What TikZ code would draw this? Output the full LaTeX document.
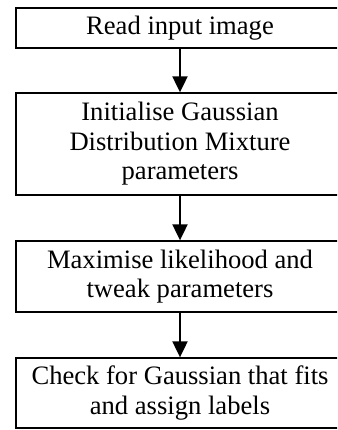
\documentclass[tikz,border=0pt]{standalone}
\usepackage{fontspec}
\setmainfont{Liberation Serif}
\usetikzlibrary{arrows.meta}
\begin{document}
\begin{tikzpicture}[x=1pt,y=1pt,
  stepbox/.style={draw=black,line width=1.3pt,minimum width=328pt,inner sep=0pt,
    align=center,font=\fontsize{26.6}{29.5}\selectfont},
  flow/.style={line width=2pt,-{Triangle[width=15pt,length=16pt]}}]
\useasboundingbox (0,0) rectangle (337,430);
\clip (0,0) rectangle (337,430);
\fill[white] (0,0) rectangle (337,430);
\node[stepbox,minimum height=40pt] (a) at (180,402) {Read input image};
\node[stepbox,minimum height=102pt] (b) at (180,286) {Initialise Gaussian\\Distribution Mixture\\parameters};
\node[stepbox,minimum height=71pt] (c) at (180,153.5) {Maximise likelihood and\\tweak parameters};
\node[stepbox,minimum height=70pt] (d) at (180,37) {Check for Gaussian that fits\\and assign labels};
\draw[flow] (a) -- (b);
\draw[flow] (b) -- (c);
\draw[flow] (c) -- (d);
\end{tikzpicture}
\end{document}
